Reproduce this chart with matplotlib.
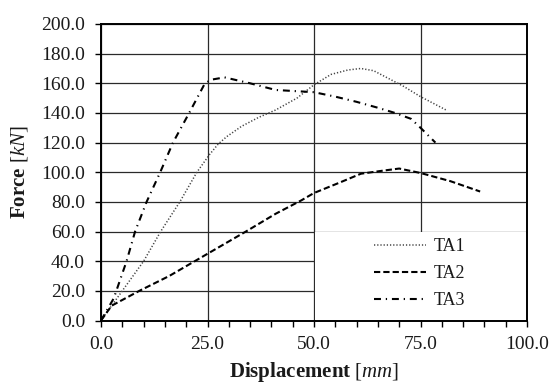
import matplotlib
matplotlib.use("Agg")
import matplotlib.pyplot as plt
from matplotlib.patches import Rectangle
from matplotlib.ticker import MultipleLocator, FormatStrFormatter

plt.rcParams['font.family'] = ['Liberation Serif', 'DejaVu Serif']
plt.rcParams['mathtext.fontset'] = 'custom'
plt.rcParams['mathtext.rm'] = 'Liberation Serif'
plt.rcParams['mathtext.it'] = 'Liberation Serif:italic'
plt.rcParams['mathtext.bf'] = 'Liberation Serif:bold'
plt.rcParams['lines.scale_dashes'] = False

# Data
ta1_x = [0, 2, 5, 10, 14, 18.5, 22.5, 25.5, 27.5, 29.5, 33, 37, 41, 46, 50, 54, 58, 61, 64, 67, 71, 75, 78, 81]
ta1_y = [0, 8, 20, 40, 60, 80, 100, 112, 119, 124, 131, 137, 142, 150, 159, 166, 169, 170, 168.5, 164, 158, 151, 146.5, 142]

ta2_x = [0, 2.5, 9, 16, 22, 28, 34, 41, 47, 50, 56, 61, 66, 70, 75, 82, 89]
ta2_y = [0, 10, 20, 30, 40, 50, 60, 72, 81, 86, 93, 99, 101, 102.5, 99.5, 94, 87]

ta3_x = [0, 3, 6, 8, 10.7, 13.9, 16.9, 20.7, 24.4, 26, 29, 35, 41, 50, 55, 60, 65, 69, 72.8, 75, 78.5]
ta3_y = [0, 15, 40, 60, 80, 100, 120, 140, 160, 162.5, 164, 160, 155.5, 154, 151, 147.5, 143.5, 140, 136, 130, 120]

labels = ['TA1', 'TA2', 'TA3']

fig = plt.figure(figsize=(5.52, 3.83), dpi=100)
ax = fig.add_axes([101/552, 1-320.5/383, 426/552, 296.5/383])

txt = '#1a1a1a'
ax.plot(ta1_x, ta1_y, color='#444444', lw=1.1, linestyle=(0, (0.9, 1.4)), label=labels[0], zorder=3)
ax.plot(ta2_x, ta2_y, color='black', lw=1.5, linestyle=(0, (4.5, 2.2)), label=labels[1], zorder=3)
ax.plot(ta3_x, ta3_y, color='black', lw=1.5, linestyle=(0, (5, 3.5, 0.9, 3.5)), label=labels[2], zorder=3)

ax.set_xlim(0, 100)
ax.set_ylim(0, 200)
ax.xaxis.set_major_locator(MultipleLocator(25))
ax.xaxis.set_minor_locator(MultipleLocator(5))
ax.yaxis.set_major_locator(MultipleLocator(20))
ax.xaxis.set_major_formatter(FormatStrFormatter('%.1f'))
ax.yaxis.set_major_formatter(FormatStrFormatter('%.1f'))

ax.set_axisbelow(True)
ax.grid(True, which='major', color='#2a2a2a', lw=0.9, zorder=0.5)
ax.add_patch(Rectangle((50.3, 0.5), 49.5, 59.5, facecolor='white', edgecolor='none', zorder=1))

for s in ax.spines.values():
    s.set_linewidth(1.4)
    s.set_color('black')

ax.tick_params(axis='both', which='both', direction='out', length=4.5, width=1.0, colors='black',
               labelcolor=txt, labelsize=14, pad=7)

ax.set_xlabel(r'$\mathbf{Displacement}$ [$\mathit{mm}$]', fontsize=15, color=txt, labelpad=5)
ax.set_ylabel(r'$\mathbf{Force}$ [$\mathit{kN}$]', fontsize=15, color=txt, labelpad=8)

leg = ax.legend(loc='upper left', bbox_to_anchor=(374/552, 1-238/383), bbox_transform=fig.transFigure,
                frameon=False, fontsize=13, handlelength=2.9, handletextpad=0.4,
                labelspacing=0.55, borderpad=0, borderaxespad=0)
for t in leg.get_texts():
    t.set_color(txt)

fig.savefig('out.png', dpi=100)
